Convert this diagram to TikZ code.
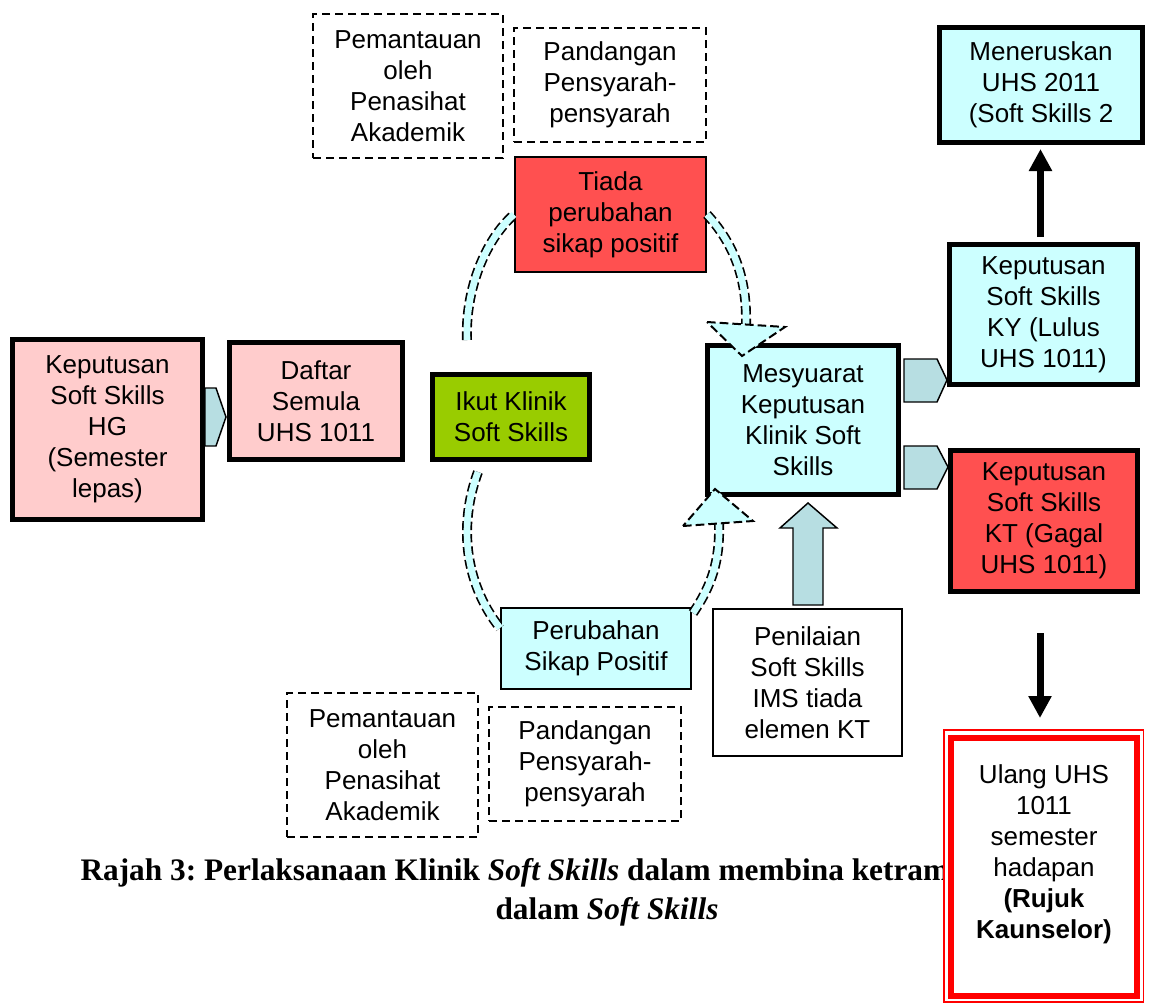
\documentclass[tikz,border=0pt]{standalone}
\usepackage{fontspec}
\setmainfont{Liberation Sans}
\newfontfamily\rajahfont{Liberation Serif}
\usetikzlibrary{arrows.meta}
\frenchspacing

\definecolor{merahjambu}{RGB}{255,204,204}
\definecolor{hijau}{RGB}{153,204,0}
\definecolor{merahcerah}{RGB}{255,80,80}
\definecolor{biru}{RGB}{204,255,255}
\definecolor{biruabu}{RGB}{183,222,226}
\definecolor{merah}{RGB}{255,0,0}

\tikzset{every picture/.style={line width=0.75pt}}
\tikzset{
  kotak/.style={draw, rectangle, align=center, inner sep=0pt, font=\fontsize{19.5}{23.25}\selectfont},
  tebal/.style={kotak, line width=3.75pt},
  nipis/.style={kotak, line width=1.5pt},
  putus/.style={kotak, line width=1.5pt, dash pattern=on 6pt off 3.75pt},
  blok/.style={draw, line width=1.1pt, fill=biruabu, line join=miter},
  lengkung/.style={draw=biru, line width=5pt, preaction={draw=black, line width=7.5pt, dash pattern=on 6.5pt off 3pt}},
  kepala/.style={draw, fill=biru, line width=1.5pt, dash pattern=on 6.5pt off 3pt, line join=miter},
  anakpanah/.style={line width=5.25pt, -{Triangle[width=16.5pt,length=16.5pt]}},
  rajah/.style={font=\rajahfont\bfseries\fontsize{23.5}{30}\selectfont, inner sep=0pt}
}

\begin{document}
\begin{tikzpicture}[x=0.75pt,y=0.75pt,yscale=-1,xscale=1]
\useasboundingbox (0,0) rectangle (1150,1004);

%Shape: Rectangle (left)
\node[tebal, fill=merahjambu, minimum width=142.5pt, minimum height=135pt] (hg) at (107.5,429.5) {Keputusan\\Soft Skills\\HG\\(Semester\\lepas)};
\node[tebal, fill=merahjambu, minimum width=129.75pt, minimum height=87.75pt] (daftar) at (316,401) {Daftar\\Semula\\UHS 1011};
\node[tebal, fill=hijau, minimum width=117.75pt, minimum height=63.75pt] (ikut) at (511,417) {Ikut Klinik\\Soft Skills};

%Shape: Rectangle (top)
\node[putus, minimum width=142.5pt, minimum height=108pt] (pantauatas) at (408,86) {Pemantauan\\oleh\\Penasihat\\Akademik};
\node[putus, minimum width=144pt, minimum height=85.5pt] (pandangatas) at (610,85) {Pandangan\\Pensyarah-\\pensyarah};
\node[nipis, fill=merahcerah, minimum width=143.25pt, minimum height=86.25pt] (tiada) at (610.5,214.5) {Tiada\\perubahan\\sikap positif};

%Shape: Rectangle (bottom)
\node[nipis, fill=biru, minimum width=142.5pt, minimum height=60.75pt] (perubahan) at (596,648.5) {Perubahan\\Sikap Positif};
\node[putus, minimum width=143.25pt, minimum height=108pt] (pantaubawah) at (382.5,765) {Pemantauan\\oleh\\Penasihat\\Akademik};
\node[putus, minimum width=144pt, minimum height=85.5pt] (pandangbawah) at (585,764) {Pandangan\\Pensyarah-\\pensyarah};
\node[nipis, fill=white, minimum width=141.75pt, minimum height=110.25pt] (penilaian) at (807.5,682.5) {Penilaian\\Soft Skills\\IMS tiada\\elemen KT};

%Shape: Rectangle (right)
\node[tebal, fill=biru, minimum width=143.25pt, minimum height=111.75pt] (mesyuarat) at (803,420) {Mesyuarat\\Keputusan\\Klinik Soft\\Skills};
\node[tebal, fill=biru, minimum width=141pt, minimum height=105pt] (ky) at (1043.5,314.5) {Keputusan\\Soft Skills\\KY (Lulus\\UHS 1011)};
\node[tebal, fill=merahcerah, minimum width=140.25pt, minimum height=105.75pt] (kt) at (1044,521) {Keputusan\\Soft Skills\\KT (Gagal\\UHS 1011)};
\node[tebal, fill=biru, minimum width=152.25pt, minimum height=86.25pt] (teruskan) at (1041,85) {Meneruskan\\UHS 2011\\(Soft Skills 2};

% Text Node
\node[rajah, anchor=base west] (rajah1) at (80,880) {Rajah 3: Perlaksanaan Klinik \textit{Soft Skills} dalam membina ketram};
\node[rajah, anchor=base] (rajah2) at (607,919) {dalam \textit{Soft Skills}};

%Shape: Rectangle (double red)
\draw[draw=merah, line width=1.1pt, fill=white] (944,730) rectangle (1143.5,1002);
\node[kotak, draw=merah, fill=white, line width=4.5pt, minimum width=139.5pt, minimum height=193.5pt] (ulang) at (1044,867) {Ulang UHS\\1011\\semester\\hadapan\\\textbf{(Rujuk}\\\textbf{Kaunselor)}\\\mbox{}};

%Curve Lines
\coordinate (atas) at (467,340);
\coordinate (bawah) at (478,472);
\coordinate (hujungatas) at (746,324);
\coordinate (hujungbawah) at (719,524);
\draw[lengkung] (atas) .. controls (465,290) and (485,240) .. (tiada.west);
\draw[lengkung] (tiada.east) .. controls (735,245) and (747,280) .. (hujungatas);
\draw[kepala] (707,322) -- (785,327) -- (742,356) -- cycle;
\draw[lengkung] (bawah) .. controls (460,520) and (462,580) .. (perubahan.north west |- 0,628);
\draw[lengkung] (693,613) .. controls (712,585) and (720,560) .. (hujungbawah);
\draw[kepala] (683,526) -- (753,521) -- (715,489) -- cycle;

%Shape: Block arrows
\draw[blok] (205,388) -- (216,388) -- (226,417) -- (216,446) -- (205,446) -- cycle;
\draw[blok] (904,359) -- (937,359) -- (947,380) -- (937,402) -- (904,402) -- cycle;
\draw[blok] (904,446) -- (937,446) -- (948,467) -- (937,489) -- (904,489) -- cycle;
\draw[blok] (793,605) -- (793,528) -- (780,528) -- (808,503) -- (837,528) -- (823,528) -- (823,605) -- cycle;

%Straight Lines
\draw[anakpanah, shorten <=3.75pt, shorten >=3pt] ([xshift=-2.25pt]ky.north) -- ([xshift=-2.25pt]ky.north |- teruskan.south);
\draw[anakpanah, shorten <=29.25pt, shorten >=12.75pt] ([xshift=-3pt]kt.south) -- ([xshift=-3pt]kt.south |- ulang.north);

\end{tikzpicture}
\end{document}
